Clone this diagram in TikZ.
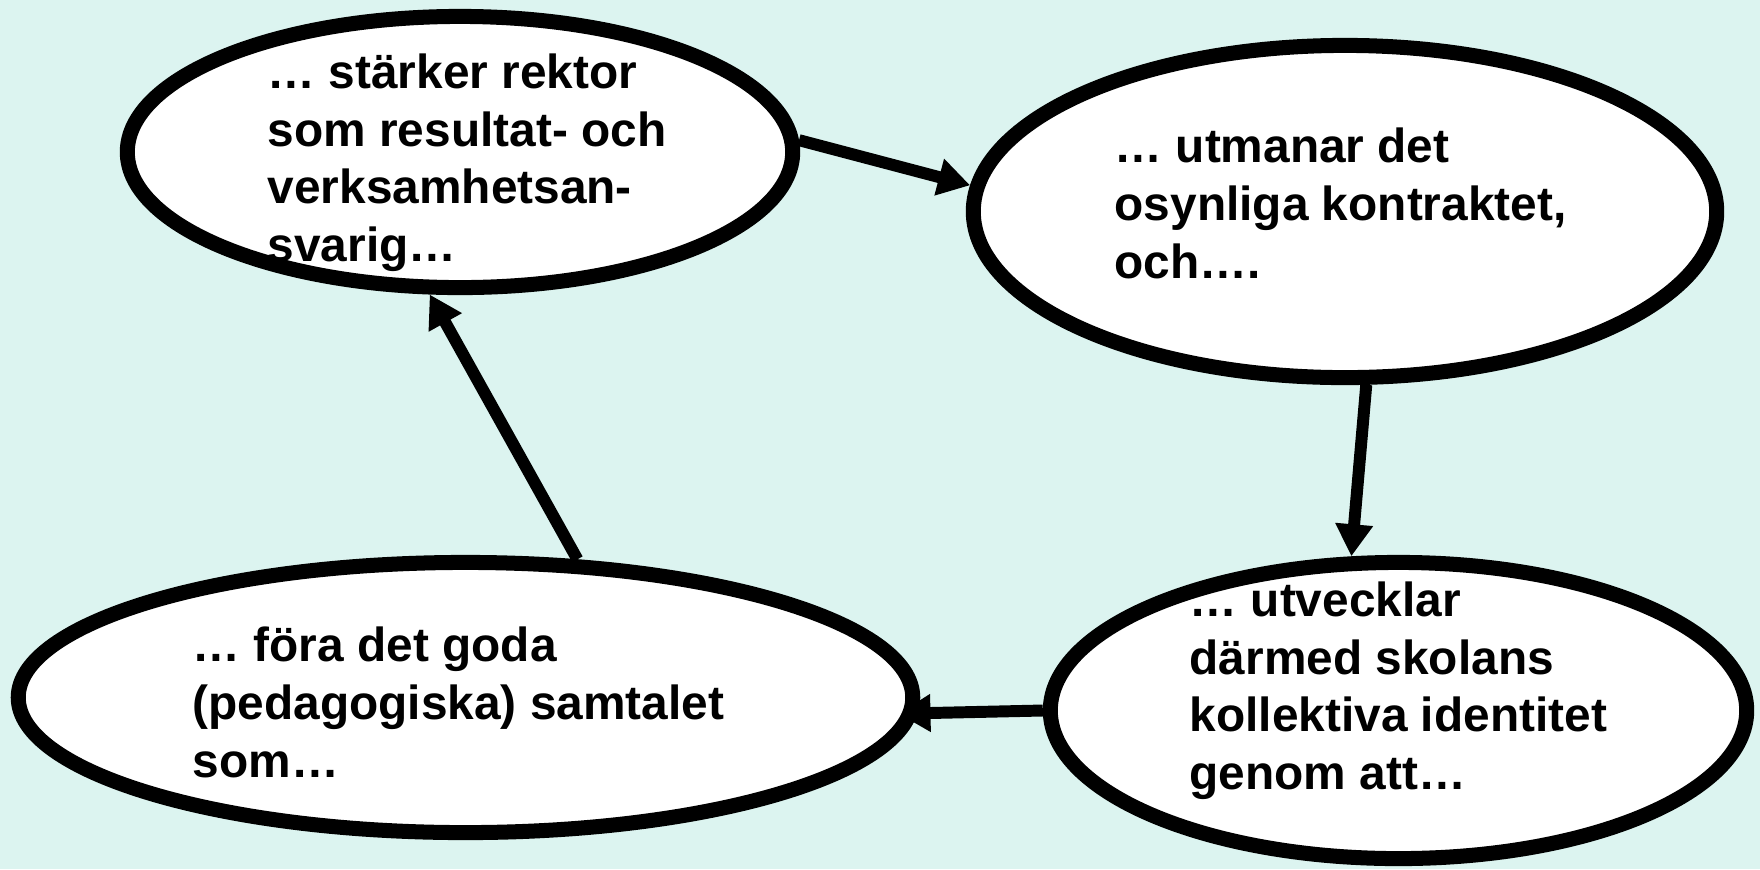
\documentclass[tikz,border=0pt]{standalone}
\usepackage{fontspec}
\setmainfont{Liberation Sans}
\usetikzlibrary{shapes.geometric,arrows.meta}
\definecolor{bgcol}{RGB}{220,244,240}
\pgfdeclarelayer{back}
\pgfdeclarelayer{arrowlayer}
\pgfsetlayers{back,arrowlayer,main}
\begin{document}
\begin{tikzpicture}[x=0.01cm,y=-0.01cm,
  bubble/.style={ellipse, draw=black, fill=white, line width=4.27pt, inner sep=0pt},
  txt/.style={anchor=base west, align=left, inner sep=0pt, font=\fontsize{13.6pt}{16.36pt}\selectfont\bfseries},
  conn/.style={line width=3.4pt, -{Triangle[length=9.1pt,width=10.2pt]}}
]
\begin{pgfonlayer}{back}
\fill[bgcol] (0,0) rectangle (1760,869);
\end{pgfonlayer}
\useasboundingbox (0,0) rectangle (1760,869);

\node[bubble, minimum width=6.65cm, minimum height=2.71cm] (e1) at (460,152) {};
\node[bubble, minimum width=7.43cm, minimum height=3.32cm] (e2) at (1345,211.5) {};
\node[bubble, minimum width=6.96cm, minimum height=2.96cm] (e3) at (1398.5,710.5) {};
\node[bubble, minimum width=8.94cm, minimum height=2.70cm] (e4) at (465.5,697.5) {};

\begin{pgfonlayer}{arrowlayer}
\draw[conn] (e1.2) -- (e2.176);
\draw[conn] (e2.-83) -- (e3.107);
\draw[conn, shorten >=-5.4pt] (e3.180) -- (e4.-2);
\draw[conn] (e4.51) -- (e1.-102);
\end{pgfonlayer}

% base anchor of a multi-line node = baseline of its last line
\node[txt] (t1) at (267,261.5) {… stärker rektor\\som resultat- och\\verksamhetsan-\\svarig…};
\node[txt] (t2) at (1114,278) {… utmanar det\\osynliga kontraktet,\\och….};
\node[txt] (t3) at (1189,789.5) {… utvecklar\\därmed skolans\\kollektiva identitet\\genom att…};
\node[txt] (t4) at (192,777) {… föra det goda\\(pedagogiska) samtalet\\som…};
\end{tikzpicture}
\end{document}
